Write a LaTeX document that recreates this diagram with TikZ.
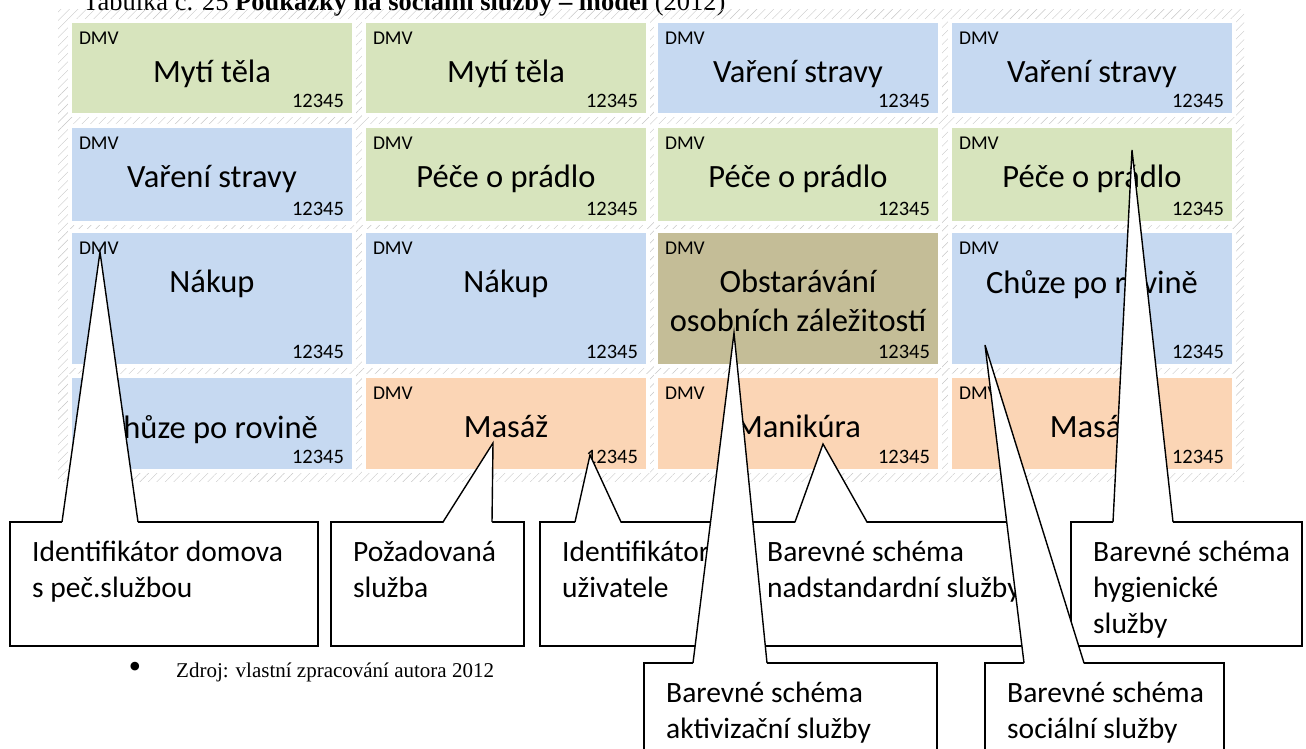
\documentclass[tikz,border=0pt]{standalone}
\usepackage{fontspec}
\setmainfont{Liberation Serif}
\newfontfamily\calib{Carlito}
\usetikzlibrary{calc, patterns.meta}
\definecolor{cgreen}{HTML}{D7E4BD}
\definecolor{cblue}{HTML}{C6D9F1}
\definecolor{ctan}{HTML}{C4BD97}
\definecolor{cpeach}{HTML}{FBD5B5}

\begin{document}
\begin{tikzpicture}[x=1pt, y=-1pt,
        cell/.style={rectangle, minimum width=280pt, inner sep=0pt, preaction={draw=white, line width=8pt},
            label={[dmv]north west:DMV}, label={[num]south east:12345}},
        dmv/.style={anchor=north west, inner sep=0pt, xshift=7pt, yshift=-9pt, font=\calib\fontsize{19.5}{22}\selectfont},
        num/.style={anchor=south east, inner sep=0pt, xshift=-8pt, yshift=5pt, font=\calib\fontsize{20.5}{24}\selectfont},
        svc/.style={anchor=north, inner sep=0pt, yshift=-37pt, align=center, font=\calib\fontsize{32.5}{39}\selectfont},
        note/.style={draw, fill=white, line width=1.4pt, outer sep=0pt, anchor=north west, inner sep=0pt, minimum height=124pt},
        notetxt/.style={anchor=north west, inner sep=0pt, align=left, font=\calib\fontsize{29.5}{36}\selectfont},
        ptr/.style={line width=1.4pt}]
        \useasboundingbox (0,0) rectangle (1306,749);

        \node[anchor=base west, inner sep=0pt, font=\fontsize{26.5}{30}\selectfont] (title) at (83,11) {Tabulka č. 25 \textbf{Poukázky na sociální služby – model} (2012)};

        % hatched frame behind the vouchers
        \fill[pattern={Lines[angle=45, distance=6pt, line width=0.4pt]}, pattern color=gray!45] (58,10) rectangle (1244,481);

        \node[cell, fill=cgreen, minimum height=90pt, label={[svc]north:Mytí těla}] (c11) at (212,68) {};
        \node[cell, fill=cgreen, minimum height=90pt, label={[svc]north:Mytí těla}] (c12) at (506,68) {};
        \node[cell, fill=cblue, minimum height=90pt, label={[svc]north:Vaření stravy}] (c13) at (798,68) {};
        \node[cell, fill=cblue, minimum height=90pt, label={[svc]north:Vaření stravy}] (c14) at (1092,68) {};

        \node[cell, fill=cblue, minimum height=93pt, label={[svc]north:Vaření stravy}] (c21) at (212,174.5) {};
        \node[cell, fill=cgreen, minimum height=93pt, label={[svc]north:Péče o prádlo}] (c22) at (506,174.5) {};
        \node[cell, fill=cgreen, minimum height=93pt, label={[svc]north:Péče o prádlo}] (c23) at (798,174.5) {};
        \node[cell, fill=cgreen, minimum height=93pt, label={[svc]north:Péče o prádlo}] (c24) at (1092,174.5) {};

        \node[cell, fill=cblue, minimum height=131pt, label={[svc]north:Nákup}] (c31) at (212,298.5) {};
        \node[cell, fill=cblue, minimum height=131pt, label={[svc]north:Nákup}] (c32) at (506,298.5) {};
        \node[cell, fill=ctan, minimum height=131pt, label={[svc]north:{Obstarávání\\osobních záležitostí}}] (c33) at (798,298.5) {};
        \node[cell, fill=cblue, minimum height=131pt, label={[svc]north:Chůze po rovině}] (c34) at (1092,298.5) {};

        \node[cell, fill=cblue, minimum height=91pt, label={[svc]north:Chůze po rovině}] (c41) at (212,423.5) {};
        \node[cell, fill=cpeach, minimum height=91pt, label={[svc]north:Masáž}] (c42) at (506,423.5) {};
        \node[cell, fill=cpeach, minimum height=91pt, label={[svc]north:Manikúra}] (c43) at (798,423.5) {};
        \node[cell, fill=cpeach, minimum height=91pt, label={[svc]north:Masáž}] (c44) at (1092,423.5) {};

        % callouts
        \node[note, minimum width=308pt] (n1) at (10,522) {};
        \coordinate (t1) at (100,252);
        \fill[white] ([shift={(52,1.6)}]n1.north west) -- (t1) -- ([shift={(128,1.6)}]n1.north west) -- cycle;
        \draw[ptr] ([xshift=52pt]n1.north west) -- (t1) -- ([xshift=128pt]n1.north west);
        \node[notetxt] (n1t) at ([shift={(22,19)}]n1.north west) {Identifikátor domova\\s peč.službou};

        \node[note, minimum width=193pt] (n2) at (331,522) {};
        \coordinate (t2) at (493,443);
        \fill[white] ([shift={(112,1.6)}]n2.north west) -- (t2) -- ([shift={(161,1.6)}]n2.north west) -- cycle;
        \draw[ptr] ([xshift=112pt]n2.north west) -- (t2) -- ([xshift=161pt]n2.north west);
        \node[notetxt] (n2t) at ([shift={(22,19)}]n2.north west) {Požadovaná\\služba};

        \node[note, minimum width=208pt] (n3) at (540,522) {};
        \coordinate (t3) at (590,455);
        \fill[white] ([shift={(35,1.6)}]n3.north west) -- (t3) -- ([shift={(81,1.6)}]n3.north west) -- cycle;
        \draw[ptr] ([xshift=35pt]n3.north west) -- (t3) -- ([xshift=81pt]n3.north west);
        \node[notetxt] (n3t) at ([shift={(22,19)}]n3.north west) {Identifikátor\\uživatele};

        \node[note, minimum width=280pt] (n4) at (745,522) {};
        \coordinate (t4) at (823,444);
        \fill[white] ([shift={(50,1.6)}]n4.north west) -- (t4) -- ([shift={(122,1.6)}]n4.north west) -- cycle;
        \draw[ptr] ([xshift=50pt]n4.north west) -- (t4) -- ([xshift=122pt]n4.north west);
        \node[notetxt] (n4t) at ([shift={(22,19)}]n4.north west) {Barevné schéma\\nadstandardní služby};

        \node[note, minimum width=231pt] (n5) at (1071,522) {};
        \coordinate (t5) at (1132,150);
        \fill[white] ([shift={(42,1.6)}]n5.north west) -- (t5) -- ([shift={(102,1.6)}]n5.north west) -- cycle;
        \draw[ptr] ([xshift=42pt]n5.north west) -- (t5) -- ([xshift=102pt]n5.north west);
        \node[notetxt] (n5t) at ([shift={(22,19)}]n5.north west) {Barevné schéma\\hygienické\\služby};

        \node[note, minimum width=293pt, minimum height=130pt] (n6) at (644,663) {};
        \coordinate (t6) at (734,333);
        \fill[white] ([shift={(49,1.6)}]n6.north west) -- (t6) -- ([shift={(123,1.6)}]n6.north west) -- cycle;
        \draw[ptr] ([xshift=49pt]n6.north west) -- (t6) -- ([xshift=123pt]n6.north west);
        \node[notetxt] (n6t) at ([shift={(22,19)}]n6.north west) {Barevné schéma\\aktivizační služby};

        \node[note, minimum width=239pt, minimum height=130pt] (n7) at (985,663) {};
        \coordinate (t7) at (985,345);
        \fill[white] ([shift={(39,1.6)}]n7.north west) -- (t7) -- ([shift={(99,1.6)}]n7.north west) -- cycle;
        \draw[ptr] ([xshift=39pt]n7.north west) -- (t7) -- ([xshift=99pt]n7.north west);
        \node[notetxt] (n7t) at ([shift={(22,19)}]n7.north west) {Barevné schéma\\sociální služby};

        \node[inner sep=0pt, font=\fontsize{36}{38}\selectfont] (bul) at (135,670) {\textbullet};
        \node[anchor=base west, inner sep=0pt, font=\fontsize{21}{24}\selectfont] (src) at (176,677) {Zdroj: vlastní zpracování autora 2012};
    \end{tikzpicture}
\end{document}
